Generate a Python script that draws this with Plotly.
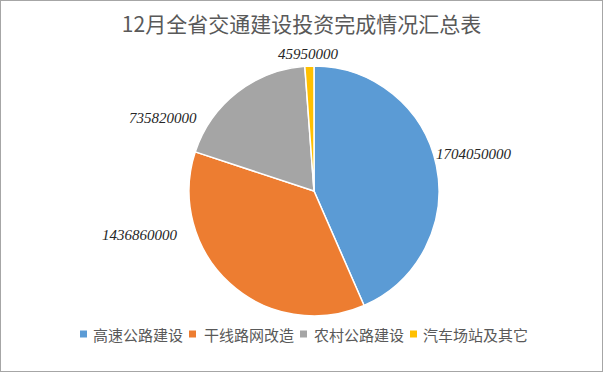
import plotly.graph_objects as go

categories = ["高速公路建设", "干线路网改造", "农村公路建设", "汽车场站及其它"]
values = [1704050000, 1436860000, 735820000, 45950000]
colors = ["#5B9BD5", "#ED7D31", "#A5A5A5", "#FFC000"]
title = "12月全省交通建设投资完成情况汇总表"

W, H = 603, 372
# layout: value-label centres (px), legend marker centres / text left edges (px)
label_px = [(474, 154), (140, 235), (163, 118), (308, 54)]
legend_marker_x = [83.5, 192.5, 303.5, 413.5]
legend_text_x = [91, 202, 312, 421]
legend_y = 334

fig = go.Figure()
fig.add_trace(go.Pie(
    labels=categories, values=values, sort=False, direction="clockwise",
    rotation=0, textinfo="none", hoverinfo="label+value+percent",
    marker=dict(colors=colors, line=dict(color="white", width=1.5)),
    domain=dict(x=[(314 - 125) / W, (314 + 125) / W], y=[(H - 191 - 125) / H, (H - 191 + 125) / H]),
    showlegend=False,
))

annotations = []
for v, (x, y) in zip(values, label_px):
    annotations.append(dict(
        x=x / W, y=1 - y / H, xref="paper", yref="paper", showarrow=False,
        text=f"<i>{v}</i>", xanchor="center", yanchor="middle",
        font=dict(family="Liberation Serif, Times New Roman, serif", size=15, color="#262626"),
    ))

shapes = []
for cat, col, mx, tx in zip(categories, colors, legend_marker_x, legend_text_x):
    shapes.append(dict(type="rect", xref="paper", yref="paper",
                       x0=(mx - 3.5) / W, x1=(mx + 3.5) / W,
                       y0=1 - (legend_y + 3.5) / H, y1=1 - (legend_y - 3.5) / H,
                       fillcolor=col, line=dict(width=0)))
    annotations.append(dict(
        x=tx / W, y=1 - legend_y / H, xref="paper", yref="paper", showarrow=False,
        text=cat, xanchor="left", yanchor="middle",
        font=dict(family="Noto Sans CJK SC", size=15, color="#595959"),
    ))

shapes.append(dict(type="rect", xref="paper", yref="paper", x0=0, y0=0, x1=1, y1=1,
                   line=dict(color="#A6A6A6", width=2)))

fig.update_layout(
    width=W, height=H,
    margin=dict(l=0, r=0, t=0, b=0),
    paper_bgcolor="white", plot_bgcolor="white",
    title=dict(text=title, x=0.5, xanchor="center", y=1 - 25 / H, yanchor="middle",
               font=dict(family="Noto Sans CJK SC", size=21, color="#595959")),
    showlegend=False,
    annotations=annotations,
    shapes=shapes,
)

fig.write_html("out.html", config={"displayModeBar": False},
               post_script="document.body.style.margin='0';")
